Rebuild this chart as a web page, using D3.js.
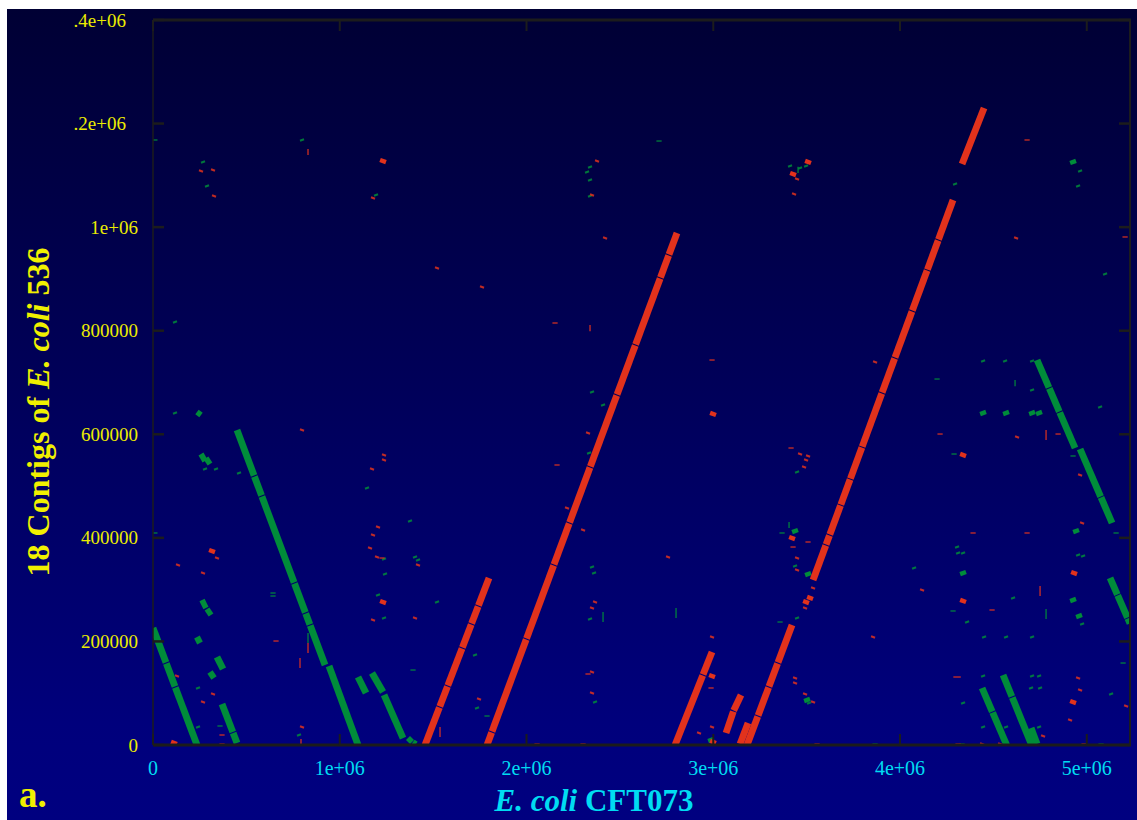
<!DOCTYPE html>
<html>
<head>
<meta charset="utf-8">
<script src="https://cdn.jsdelivr.net/npm/d3@7"></script>
<style>
  html, body { margin: 0; padding: 0; background: #ffffff; }
  svg { display: block; }
</style>
</head>
<body>
<svg id="chart" width="1137" height="820"></svg>
<script>
// Genome coordinates below are in kilobases.
const refLength = 5231.428;          // E. coli CFT073 chromosome
const qryMax = 1400;                 // top of the contig axis
const refTicks = [0, 1000, 2000, 3000, 4000, 5000];
const refTickLabels = ["0", "1e+06", "2e+06", "3e+06", "4e+06", "5e+06"];
const qryTicks = [0, 200, 400, 600, 800, 1000, 1200, 1400];
const qryTickLabels = ["0", "200000", "400000", "600000", "800000", "1e+06", ".2e+06", ".4e+06"];

// Long alignment blocks: [refStart, qryStart, refEnd, qryEnd, identity %]
const forwardHits = [
  [1456.6,0,1533.6,72.5,99],[1535.6,74.3,1576.7,113.0,99],[1578.6,114.8,1654.7,186.4,99],
  [1656.6,188.2,1704.0,232.8,99],[1705.9,234.6,1740.9,267.5,99],[1742.8,269.3,1799.3,322.5,99],
  [1788.6,0,1813.5,24.2,99],[1815.3,26.0,1998.3,203.8,99],[2000.1,205.6,2145.3,346.7,99],
  [2147.1,348.5,2228.7,427.8,99],[2230.6,429.6,2339.9,535.9,99],[2341.8,537.7,2483.0,675.0,99],
  [2484.9,676.8,2582.3,771.5,99],[2584.2,773.3,2715.5,900.9,99],[2717.3,902.7,2761.1,945.3,99],
  [2763.0,947.1,2805.8,988.7,99],
  [2795.3,0,2943.4,134.3,99],[2945.4,136.1,2993.3,179.6,99],
  [3068.4,23.2,3107.5,64.7,99],[3109.4,66.5,3148.7,96.6,99],[3143.4,1.9,3186.2,42.5,99],
  [3180.9,0,3238.2,55.1,99],[3240.0,56.9,3296.4,111.1,99],[3298.3,112.9,3344.5,157.4,99],
  [3346.4,159.2,3421.8,231.7,99],
  [3534.3,318.6,3602.4,385.3,99],[3604.3,387.1,3622.1,404.6,99],[3624.0,406.4,3681.3,462.5,99],
  [3683.1,464.3,3732.6,512.7,99],[3734.4,514.5,3795.7,574.5,99],[3797.5,576.3,3902.2,678.8,99],
  [3904.1,680.6,3971.3,746.4,99],[3973.1,748.2,4064.0,837.2,99],[4065.9,839.0,4144.8,916.3,99],
  [4146.7,918.1,4204.1,974.3,99],[4205.9,976.1,4283.9,1052.4,99],[4332.2,1121.9,4450.0,1230.0,99]
];

const reverseHits = [
  [0,225.9,69.6,159.2,99],[71.4,157.4,117.8,112.9,99],[119.7,111.1,235.6,0,99],
  [449.8,608.3,541.2,520.3,99],[543.1,518.5,581.3,481.7,99],[583.1,479.9,755.7,313.7,99],
  [757.6,311.9,815.9,255.8,99],[817.7,254.0,839.9,232.6,99],[841.8,230.8,921.1,154.5,99],
  [942.5,152.5,1097.8,0,99],
  [1097.8,131.3,1140.6,100.4,99],[1172.7,139.0,1231.7,102.3,99],[1237.0,96.6,1338.8,13.5,99],
  [369.5,79.2,427.3,25.0,99],[429.2,23.2,449.8,3.9,99],[342.7,169.9,374.9,146.8,99],
  [4733.8,743.4,4797.4,690.3,99],[4799.5,688.5,4853.0,643.9,99],[4855.1,642.1,4937.3,573.5,99],
  [4964.1,571.6,5074.2,479.8,99],[5076.3,478.0,5135.4,428.7,99],
  [5124.7,322.5,5163.6,290.6,99],[5165.7,288.8,5217.8,246.1,99],[5220.0,244.3,5231.4,234.6,99],
  [4439.3,110.1,4493.8,64.6,99],[4496.0,62.8,4571.1,0,99],
  [4551.8,135.2,4598.9,93.6,99],[4601.0,91.8,4704.8,0,99],[4701.7,32.8,4733.8,1.9,99],
  [262.4,280.0,283.8,264.5,95],[289.2,262.6,310.6,251.0,95],
  [257.0,561.9,278.5,548.4,95],[283.8,554.2,305.2,542.6,95],
  [235.6,643.0,257.0,637.2,95],[235.6,208.5,251.7,197.0,97],[305.2,141.0,326.7,129.4,97],
  [1365.5,13.5,1387.0,5.8,95],[1392.3,5.8,1408.4,1.9,95]
];

// Short hits: [refCentre, qryCentre, refSpan, qrySpan, identity %]
const forwardShort = [
  [321.3,1110.4,4,4,90],[257.0,1108.4,4,4,90],[326.7,1060.1,4,4,90],[1231.7,1127.7,8,8,97],
  [1178.1,1056.3,4,4,90],[2377.6,1127.7,4,4,90],[2350.8,1062.1,4,4,90],[2420.5,979.1,4,4,90],
  [3507.5,1125.8,8,8,97],[3427.2,1102.6,8,8,97],[3448.6,1092.9,4,4,90],[3432.5,1064.0,4,4,90],
  [4621.4,979.1,4,4,90],[1761.8,884.4,4,4,90],[1520.8,921.1,4,4,90],[797.9,608.3,4,4,90],
  [1237.0,560.0,4,4,90],[1237.0,550.3,4,4,90],[1172.7,533.0,4,4,90],[1204.9,421.0,4,4,90],
  [1178.1,405.5,4,4,90],[316.0,374.6,8,8,97],[342.7,361.1,4,4,90],[133.9,347.6,4,4,90],
  [267.8,332.1,4,4,90],[1162.0,380.4,4,4,90],[1199.5,363.0,4,4,90],[1419.1,347.6,4,4,90],
  [1231.7,276.1,8,8,97],[1178.1,241.4,4,4,90],[1403.0,245.2,4,4,90],[321.3,98.5,4,4,90],
  [267.8,83.0,4,4,90],[128.5,133.2,4,4,90],[797.9,34.8,4,4,90],[1745.7,88.8,4,4,90],
  [2366.9,276.1,4,4,90],[2350.8,264.5,4,4,90],[2350.8,141.0,4,4,90],[2350.8,100.4,4,4,90],
  [2216.9,457.6,4,4,90],[2302.7,415.2,4,4,90],[2329.4,602.5,4,4,90],[2757.8,363.0,4,4,90],
  [2993.4,208.5,4,4,90],[2993.4,133.2,8,8,97],[2993.4,34.8,4,4,90],[2923.8,23.2,4,4,90],
  [3437.9,129.4,4,4,90],[3437.9,119.7,4,4,90],[3491.5,98.5,4,4,90],[3534.3,83.0,4,4,90],
  [3496.8,276.1,8,8,97],[3507.5,558.1,4,4,90],[3496.8,550.3,4,4,90],[3486.1,536.8,4,4,90],
  [3464.7,561.9,4,4,90],[3421.8,399.7,8,8,97],[3448.6,361.1,4,4,90],[3448.6,337.9,4,4,90],
  [3518.2,283.9,8,8,97],[3491.5,264.5,4,4,90],[3534.3,303.2,4,4,90],[4337.6,560.0,8,8,97],
  [4964.1,521.4,4,4,90],[4974.8,428.7,4,4,90],[4932.0,332.1,8,8,97],[4337.6,278.1,8,8,97],
  [4626.7,594.7,4,4,90],[4926.6,83.0,8,8,97],[4953.4,129.4,4,4,90],[4964.1,106.2,4,4,90],
  [4910.5,48.3,4,4,90],[5210.4,75.3,4,4,90],[4766.0,17.4,4,4,90],[3866.3,739.6,4,4,90],
  [2998.8,639.2,8,8,97],[3855.6,208.5,4,4,90],[4118.0,299.3,4,4,90],[112.5,3.9,8,8,97],
  [4439.3,1.9,4,4,90],[4535.7,1.9,4,4,90],[2998.8,5.8,8,8,97],
  [4680.3,1168.3,28,0,80],[5205.1,981.0,28,0,80],[4214.4,600.5,28,0,80],[3416.5,573.5,28,0,80],
  [4492.8,260.7,28,0,80],[4391.1,409.4,28,0,80],[4680.3,409.4,28,0,80],[4305.4,131.3,40,0,80],
  [4846.3,600.5,28,0,80],[2993.4,743.4,28,0,80],[2152.7,814.9,28,0,80],[2163.4,540.7,28,0,80],
  [1226.3,361.1,28,0,80],[658.7,200.8,28,0,80],[369.5,1.9,28,0,80],[369.5,19.3,28,0,80],
  [2329.4,137.1,28,0,80],[2988.1,110.1,28,0,80],[3427.2,382.3,28,0,80],[3507.5,392.0,28,0,80],
  [4985.5,1.9,28,0,80],[4310.8,1.9,28,0,80],[2056.3,1.9,28,0,80],[2302.7,1.9,28,0,80],
  [3555.7,1.9,28,0,80],[3170.2,1.9,28,0,80],[10,200.8,28,0,80],
  [830.0,187.3,0,19,80],[787.2,158.3,0,19,80],[1536.9,25.1,0,19,80],[4782.0,598.6,0,19,80],
  [4749.9,297.4,0,19,80],[2340.1,805.2,0,12,80],[792.5,5.8,0,12,80],[830.0,1145.1,0,12,80]
];

const reverseShort = [
  [267.8,1125.8,4,4,90],[289.2,1079.4,4,4,90],[1194.2,1062.1,4,4,90],[797.9,1168.3,4,4,90],
  [2340.1,1116.1,4,4,90],[2324.1,1106.5,4,4,90],[2340.1,1091.0,4,4,90],[2340.1,1060.1,4,4,90],
  [3464.7,1114.2,4,4,90],[3411.1,1118.0,4,4,90],[3496.8,1118.0,4,4,90],[4294.7,1083.3,4,4,90],
  [4964.1,1108.4,4,4,90],[4953.4,1079.4,4,4,90],[4926.6,1125.8,8,8,97],[5098.0,909.5,4,4,90],
  [117.8,816.8,4,4,90],[117.8,641.1,4,4,90],[278.5,533.0,4,4,90],[337.4,533.0,4,4,90],
  [460.5,525.2,4,4,90],[1146.0,496.3,4,4,90],[1376.2,432.5,4,4,90],[1237.0,359.2,4,4,90],
  [1403.0,363.0,4,4,90],[1419.1,357.2,4,4,90],[1242.4,330.2,4,4,90],[1520.8,276.1,4,4,90],
  [1204.9,289.7,4,4,90],[1237.0,245.2,4,4,90],[241.0,110.1,4,4,90],[241.0,34.8,4,4,90],
  [781.8,19.3,4,4,90],[1724.3,173.8,4,4,90],[1735.0,71.4,4,4,90],[2350.8,343.7,4,4,90],
  [2361.6,332.1,4,4,90],[2340.1,243.3,4,4,90],[2366.9,83.0,4,4,90],[2350.8,681.6,4,4,90],
  [2409.8,656.5,4,4,90],[2334.8,563.9,4,4,90],[3448.6,527.2,4,4,90],[3437.9,413.2,8,8,97],
  [3437.9,345.6,4,4,90],[3507.5,330.2,8,8,97],[3448.6,245.2,4,4,90],[4444.7,741.5,4,4,90],
  [4562.5,741.5,4,4,90],[4707.0,741.5,4,4,90],[4707.0,685.5,4,4,90],[4444.7,641.1,8,8,97],
  [4567.8,641.1,8,8,97],[4707.0,641.1,8,8,97],[4744.5,641.1,8,8,97],[4305.4,382.3,4,4,90],
  [4310.8,370.8,4,4,90],[4337.6,370.8,4,4,90],[4075.2,341.8,4,4,90],[4337.6,332.1,8,8,97],
  [4359.0,237.5,4,4,90],[4450.0,208.5,4,4,90],[4567.8,208.5,4,4,90],[4707.0,208.5,4,4,90],
  [4953.4,366.9,4,4,90],[4980.2,365.0,4,4,90],[4942.7,413.2,8,8,97],[4926.6,280.0,8,8,97],
  [4958.7,249.1,8,8,97],[4974.8,233.7,4,4,90],[4605.3,283.9,4,4,90],[4444.7,133.2,4,4,90],
  [4707.0,133.2,4,4,90],[4744.5,133.2,4,4,90],[4701.7,110.1,4,4,90],[4749.9,110.1,4,4,90],
  [4337.6,81.1,4,4,90],[5130.1,98.5,4,4,90],[4444.7,34.8,4,4,90],[4567.8,34.8,4,4,90],
  [4744.5,34.8,4,4,90],[3502.2,86.9,8,8,97],[3512.9,81.1,4,4,90],[2988.1,9.7,8,8,97],
  [5071.2,652.7,4,4,90],
  [10,1168.3,28,0,80],[10,409.4,28,0,80],[642.6,293.5,28,0,80],[642.6,287.7,28,0,80],
  [358.8,36.7,28,0,80],[1392.3,144.8,28,0,80],[1788.6,56.0,28,0,80],[3357.6,237.5,28,0,80],
  [4198.3,706.7,28,0,80],[4289.4,561.9,28,0,80],[4284.0,258.8,28,0,80],[3368.3,409.4,28,0,80],
  [4926.6,558.1,28,0,80],[5156.9,409.4,28,0,80],[5194.4,158.3,28,0,80],[3866.3,1.9,28,0,80],
  [5076.5,1.9,28,0,80],[4332.2,1.9,28,0,80],[2709.6,1166.3,28,0,80],
  [830.0,206.6,0,19,80],[2409.8,247.2,0,19,80],[2800.7,254.9,0,19,80],[4616.0,699.0,0,12,80],
  [4782.0,253.0,0,19,80],[3454.0,1110.4,0,12,80],[3405.8,424.8,0,12,80]
];

const W = 1137, H = 820;
const plot = { left: 153, right: 1130, top: 20, bottom: 745 };
const svg = d3.select("#chart");

// panel background
const defs = svg.append("defs");
const grad = defs.append("linearGradient")
  .attr("id", "panelFill").attr("x1", 0).attr("y1", 0).attr("x2", 0).attr("y2", 1);
grad.append("stop").attr("offset", "0%").attr("stop-color", "#000034");
grad.append("stop").attr("offset", "45%").attr("stop-color", "#000058");
grad.append("stop").attr("offset", "88%").attr("stop-color", "#00007c");
grad.append("stop").attr("offset", "100%").attr("stop-color", "#000080");
svg.append("rect").attr("x", 7).attr("y", 9).attr("width", W - 7).attr("height", H - 9)
  .attr("fill", "url(#panelFill)");

defs.append("clipPath").attr("id", "plotClip").append("rect")
  .attr("x", plot.left).attr("y", plot.top)
  .attr("width", plot.right - plot.left).attr("height", plot.bottom - plot.top);

const x = d3.scaleLinear().domain([0, refLength]).range([plot.left, plot.right]);
const y = d3.scaleLinear().domain([0, qryMax]).range([plot.bottom, plot.top]);
const widthOf = d3.scaleLinear().domain([80, 99]).range([1.4, 6.8]).clamp(true);

const FWD = "#e2321c", REV = "#008c3a";

const marks = svg.append("g").attr("clip-path", "url(#plotClip)");

function drawLong(data, color) {
  marks.append("g").selectAll("line").data(data).join("line")
    .attr("x1", d => x(d[0])).attr("y1", d => y(d[1]))
    .attr("x2", d => x(d[2])).attr("y2", d => y(d[3]))
    .attr("stroke", color).attr("stroke-width", d => widthOf(d[4]))
    .attr("stroke-linecap", "butt");
}
function drawShort(data, color, dir) {
  marks.append("g").selectAll("line").data(data).join("line")
    .attr("x1", d => x(d[0] - d[2] / 2)).attr("y1", d => y(d[1] - dir * d[3] / 2))
    .attr("x2", d => x(d[0] + d[2] / 2)).attr("y2", d => y(d[1] + dir * d[3] / 2))
    .attr("stroke", color).attr("stroke-width", d => widthOf(d[4]))
    .attr("stroke-opacity", d => d[4] < 95 ? 0.85 : 1)
    .attr("stroke-linecap", "butt");
}
drawShort(reverseShort, REV, -1);
drawShort(forwardShort, FWD, 1);
drawLong(reverseHits, REV);
drawLong(forwardHits, FWD);

// frame with inward ticks on all four sides
const axisColor = "#1c1c1c";
const frame = svg.append("g").attr("stroke", axisColor).attr("fill", "none");
frame.append("line").attr("x1", plot.left).attr("x2", plot.right + 1)
  .attr("y1", plot.bottom).attr("y2", plot.bottom).attr("stroke-width", 3);
frame.append("line").attr("x1", plot.left).attr("x2", plot.right + 1)
  .attr("y1", plot.top).attr("y2", plot.top).attr("stroke-width", 3);
frame.append("line").attr("x1", plot.left).attr("x2", plot.left)
  .attr("y1", plot.top).attr("y2", plot.bottom).attr("stroke-width", 1.5);
frame.append("line").attr("x1", plot.right).attr("x2", plot.right)
  .attr("y1", plot.top).attr("y2", plot.bottom).attr("stroke-width", 2);

const tickLen = 11;
frame.selectAll(".xtb").data(refTicks).join("line")
  .attr("x1", d => x(d)).attr("x2", d => x(d))
  .attr("y1", plot.bottom).attr("y2", plot.bottom - tickLen).attr("stroke-width", 2);
frame.selectAll(".xtt").data(refTicks).join("line")
  .attr("x1", d => x(d)).attr("x2", d => x(d))
  .attr("y1", plot.top).attr("y2", plot.top + tickLen).attr("stroke-width", 2);
frame.selectAll(".ytl").data(qryTicks).join("line")
  .attr("x1", plot.left).attr("x2", plot.left + tickLen)
  .attr("y1", d => y(d)).attr("y2", d => y(d)).attr("stroke-width", 2.5);
frame.selectAll(".ytr").data(qryTicks).join("line")
  .attr("x1", plot.right).attr("x2", plot.right - tickLen)
  .attr("y1", d => y(d)).attr("y2", d => y(d)).attr("stroke-width", 2.5);

const serif = "'Liberation Serif', 'Times New Roman', serif";

// tick labels
svg.append("g").selectAll("text").data(refTicks).join("text")
  .attr("x", d => x(d)).attr("y", 775)
  .attr("text-anchor", "middle")
  .attr("font-family", serif).attr("font-size", 20).attr("fill", "#00dcf2")
  .text((d, i) => refTickLabels[i]);

svg.append("g").selectAll("text").data(qryTicks).join("text")
  .attr("x", (d, i) => qryTickLabels[i].startsWith(".") ? 126 : 138)
  .attr("y", d => y(d) + 6.5)
  .attr("text-anchor", "end")
  .attr("font-family", serif).attr("font-size", 19).attr("fill", "#ecec00")
  .text((d, i) => qryTickLabels[i]);

// axis titles
const yTitle = svg.append("text")
  .attr("transform", `translate(49, 412) rotate(-90)`)
  .attr("text-anchor", "middle")
  .attr("font-family", serif).attr("font-size", 32).attr("font-weight", "bold")
  .attr("fill", "#f0f000");
yTitle.append("tspan").text("18 Contigs of ");
yTitle.append("tspan").attr("font-style", "italic").text("E. coli");
yTitle.append("tspan").text(" 536");

const xTitle = svg.append("text")
  .attr("x", 594).attr("y", 811)
  .attr("text-anchor", "middle")
  .attr("font-family", serif).attr("font-size", 31).attr("font-weight", "bold")
  .attr("fill", "#00dcf2");
xTitle.append("tspan").attr("font-style", "italic").text("E. coli");
xTitle.append("tspan").text(" CFT073");

svg.append("text")
  .attr("x", 19).attr("y", 807)
  .attr("font-family", serif).attr("font-size", 37).attr("font-weight", "bold")
  .attr("fill", "#f0f000")
  .text("a.");
</script>
</body>
</html>
